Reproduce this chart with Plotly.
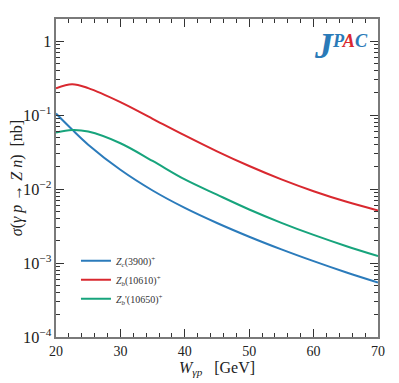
import plotly.graph_objects as go

# photon energy W_gamma_p [GeV]
w_gev = [20, 22.5, 25, 30, 35, 40, 45, 50, 55, 60, 65, 70]

# cross sections [nb]
sigma_zc3900 = [0.105, 0.0638, 0.0399, 0.01824, 0.00957, 0.00557, 0.00348, 0.00227, 0.00153, 0.00106, 0.00075, 0.000544]
sigma_zb10610 = [0.23, 0.262, 0.232, 0.150, 0.0893, 0.0532, 0.0324, 0.0205, 0.01352, 0.00935, 0.00678, 0.00514]
sigma_zb10650 = [0.058, 0.063, 0.060, 0.0417, 0.024, 0.0135, 0.0084, 0.0053, 0.0035, 0.0024, 0.0017, 0.00124]

series_names = [
    "<i>Z<sub>c</sub></i>(3900)<sup>+</sup>",
    "<i>Z<sub>b</sub></i>(10610)<sup>+</sup>",
    "<i>Z<sub>b</sub></i>'(10650)<sup>+</sup>",
]
series_colors = ["#2b7bbb", "#d9282f", "#17a47c"]

FONT = "Liberation Serif, Times New Roman, serif"
AXIS_COLOR = "#7a7a7a"
TICK_COLOR = "#333333"

fig = go.Figure()
for name, vals, color in zip(series_names, [sigma_zc3900, sigma_zb10610, sigma_zb10650], series_colors):
    fig.add_trace(
        go.Scatter(
            x=w_gev,
            y=vals,
            mode="lines",
            name=name,
            line=dict(color=color, width=2, shape="spline", smoothing=1.0),
        )
    )

# the page body adds an 8px offset, margins compensate for it
fig.update_layout(
    width=399,
    height=383,
    paper_bgcolor="white",
    plot_bgcolor="white",
    font=dict(family=FONT, color="#222", size=13),
    margin=dict(l=48, r=29, t=11, b=54),
    showlegend=True,
    legend=dict(
        x=0.062,
        y=0.285,
        xanchor="left",
        yanchor="top",
        bgcolor="rgba(0,0,0,0)",
        font=dict(family=FONT, size=10, color="#333"),
        itemwidth=30,
        tracegroupgap=0,
    ),
)

fig.update_xaxes(
    range=[20, 70],
    tickmode="linear",
    tick0=20,
    dtick=10,
    ticks="inside",
    ticklen=8,
    tickwidth=1,
    tickcolor=TICK_COLOR,
    minor=dict(tick0=20, dtick=2, ticks="inside", ticklen=4, tickwidth=1, tickcolor=TICK_COLOR),
    showline=True,
    linecolor=AXIS_COLOR,
    linewidth=2,
    mirror="allticks",
    showgrid=False,
    automargin=False,
    tickfont=dict(size=14),
    title=dict(text="<i>W<sub>γp</sub></i>   [GeV]", font=dict(size=16), standoff=4),
)

fig.update_yaxes(
    type="log",
    range=[-4, 0.3],
    tickmode="linear",
    tick0=0,
    dtick=1,
    exponentformat="power",
    ticks="inside",
    ticklen=8,
    tickwidth=1,
    tickcolor=TICK_COLOR,
    minor=dict(dtick="D1", ticks="inside", ticklen=4, tickwidth=1, tickcolor=TICK_COLOR),
    showline=True,
    linecolor=AXIS_COLOR,
    linewidth=2,
    mirror="allticks",
    showgrid=False,
    automargin=False,
    tickfont=dict(size=13),
    title=dict(text="<i>σ</i>(<i>γ p</i> → <i>Z n</i>)  [nb]", font=dict(size=16), standoff=4),
)

fig.add_annotation(
    xref="paper",
    yref="paper",
    x=0.975,
    y=0.985,
    xanchor="right",
    yanchor="top",
    showarrow=False,
    text=(
        "<b><i><span style='font-size:36px;color:#2a7ab8'>J</span>"
        "<sup><span style='color:#2a7ab8'>P</span>"
        "<span style='color:#d9282f'>A</span>"
        "<span style='color:#2a7ab8'>C</span></sup></i></b>"
    ),
    font=dict(family=FONT, size=26),
)

fig.write_html("out.html")
